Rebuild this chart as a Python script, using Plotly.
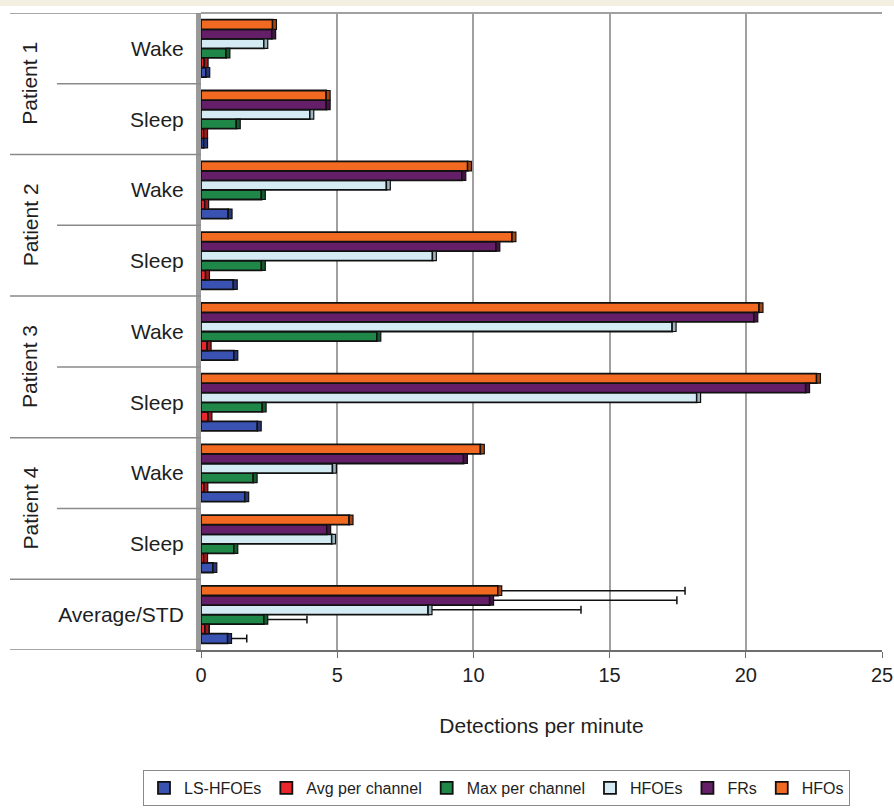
import plotly.graph_objects as go

# Rows from top to bottom: patient / state, then the cohort average
patients = ["Patient 1", "Patient 2", "Patient 3", "Patient 4"]
states = ["Wake", "Sleep"]
row_labels = ["Wake", "Sleep", "Wake", "Sleep", "Wake", "Sleep", "Wake", "Sleep", "Average/STD"]

series_names = ["LS-HFOEs", "Avg per channel", "Max per channel", "HFOEs", "FRs", "HFOs"]
series_colors = ["#3a52b2", "#e8262b", "#1f8747", "#d5ebf4", "#651e68", "#f26a22"]
# darker shades for the right-hand end faces of the bars
side_colors = ["#27377a", "#9c1a1d", "#155c30", "#9bb4bf", "#431445", "#a64716"]

# Detections per minute, one value per row (same order as row_labels)
ls_hfoes = [0.18, 0.10, 1.00, 1.19, 1.21, 2.07, 1.61, 0.44, 0.98]
avg_per_channel = [0.12, 0.10, 0.14, 0.17, 0.23, 0.26, 0.11, 0.10, 0.15]
max_per_channel = [0.92, 1.30, 2.22, 2.22, 6.46, 2.25, 1.92, 1.21, 2.31]
hfoes = [2.31, 4.00, 6.81, 8.50, 17.30, 18.20, 4.83, 4.80, 8.34]
frs = [2.60, 4.60, 9.58, 10.83, 20.30, 22.20, 9.64, 4.62, 10.60]
hfos = [2.63, 4.60, 9.79, 11.42, 20.49, 22.60, 10.26, 5.44, 10.90]

# Standard deviation across the eight recordings (average row only)
std_values = [0.70, 0.15, 1.58, 5.61, 6.87, 6.87]

series_values = [ls_hfoes, avg_per_channel, max_per_channel, hfoes, frs, hfos]

x_ticks = [0, 5, 10, 15, 20, 25]
x_title = "Detections per minute"

n_rows = len(row_labels)
# top row gets the largest position so the first series sits lowest in each group
y_pos = [n_rows - 1 - i for i in range(n_rows)]

FONT = "Liberation Sans, Arial, sans-serif"
TEXT = "#1e1e1e"
SIDE_DEPTH = 0.14  # depth of the bar end face, in axis units

fig = go.Figure()
for k, (name, vals, color, sd) in enumerate(zip(series_names, series_values, series_colors, std_values)):
    err = [None] * (n_rows - 1) + [sd]
    fig.add_trace(go.Bar(
        name=name,
        x=vals,
        y=y_pos,
        orientation="h",
        offsetgroup=str(k),
        marker=dict(color=color, line=dict(color="#111111", width=1.8)),
        error_x=dict(type="data", symmetric=False, array=err,
                     arrayminus=[None] * n_rows,
                     color="#111111", thickness=1.5, width=4),
    ))

# end faces drawn after the fronts, sharing each series' slot
for k, (vals, scol) in enumerate(zip(series_values, side_colors)):
    fig.add_trace(go.Bar(
        x=[SIDE_DEPTH] * n_rows,
        base=vals,
        y=y_pos,
        orientation="h",
        offsetgroup=str(k),
        showlegend=False,
        hoverinfo="skip",
        marker=dict(color=scol, line=dict(color="#111111", width=1.2)),
    ))

L, R, T, B = 201, 12, 13, 159
W, H = 894, 809
plot_w = W - L - R
plot_h = H - T - B

def px_to_paper_x(px):
    return (px - L) / plot_w

def px_to_paper_y(py):
    return 1 - (py - T) / plot_h

shapes = []
# cream band across the very top
shapes.append(dict(type="rect", xref="paper", yref="paper",
                   x0=px_to_paper_x(-5), x1=px_to_paper_x(W + 5),
                   y0=px_to_paper_y(6), y1=px_to_paper_y(-5),
                   fillcolor="#f4f0e1", line=dict(width=0), layer="below"))

# row separators in the label column: full width between patients,
# shorter ones between the wake / sleep rows of a patient
line_col = "#8a8a8a"
for k in range(n_rows + 1):
    yb = n_rows - 0.5 - k
    if k % 2 == 1 and k < n_rows - 1:
        x0 = px_to_paper_x(57)
    else:
        x0 = px_to_paper_x(10)
    shapes.append(dict(type="line", xref="paper", yref="y",
                       x0=x0, x1=0, y0=yb, y1=yb,
                       line=dict(color=line_col, width=1.5)))

# top edge of the back wall
shapes.append(dict(type="line", xref="paper", yref="paper",
                   x0=0, x1=1, y0=1, y1=1,
                   line=dict(color="#a0a0a0", width=2)))

annotations = []
for p_idx, pname in enumerate(patients):
    yc = n_rows - 1 - (2 * p_idx + 0.5)
    annotations.append(dict(text=pname, xref="paper", yref="y",
                            x=px_to_paper_x(30), y=yc, textangle=-90,
                            showarrow=False, xanchor="center", yanchor="middle",
                            font=dict(family=FONT, size=21, color=TEXT)))

fig.update_layout(
    width=W, height=H,
    margin=dict(l=L, r=R, t=T, b=B, autoexpand=False),
    paper_bgcolor="white",
    plot_bgcolor="white",
    barmode="group",
    bargap=0.19,
    bargroupgap=0.0,
    font=dict(family=FONT, size=16, color=TEXT),
    shapes=shapes,
    annotations=annotations,
    legend=dict(
        orientation="h",
        x=px_to_paper_x(143), xanchor="left",
        y=px_to_paper_y(788), yanchor="middle",
        bordercolor="#8a8a8a", borderwidth=1,
        font=dict(family=FONT, size=16, color=TEXT),
        itemwidth=30,
        traceorder="normal",
    ),
    xaxis=dict(
        range=[0, 25],
        tickvals=x_ticks,
        ticktext=[str(v) for v in x_ticks],
        showgrid=True, gridcolor="#a0a0a0", gridwidth=2,
        zeroline=False,
        showline=True, linecolor="#6e6e6e", linewidth=1.5,
        ticks="outside", ticklen=6, tickcolor="#6e6e6e",
        tickfont=dict(family=FONT, size=20, color=TEXT),
        title=dict(text=x_title, font=dict(family=FONT, size=21, color=TEXT), standoff=34),
        fixedrange=True,
    ),
    yaxis=dict(
        range=[-0.5, n_rows - 0.5],
        tickvals=y_pos,
        ticktext=row_labels,
        showgrid=False, zeroline=False,
        showline=True, linecolor="#9a9a9a", linewidth=5,
        ticks="", ticklabelstandoff=8,
        tickfont=dict(family=FONT, size=21, color=TEXT),
        fixedrange=True,
    ),
)

fig.write_html("out.html")
